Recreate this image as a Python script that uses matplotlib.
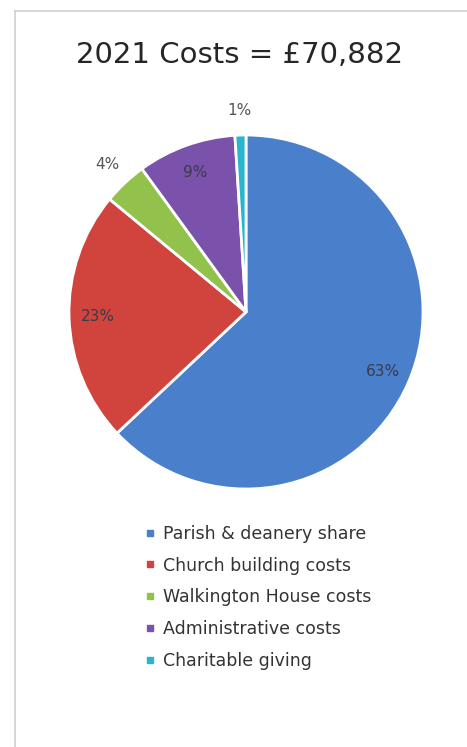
import matplotlib
matplotlib.use("Agg")
import numpy as np
import matplotlib.pyplot as plt
from matplotlib.lines import Line2D

# data
categories = ["Parish & deanery share", "Church building costs",
              "Walkington House costs", "Administrative costs", "Charitable giving"]
shares = [63, 23, 4, 9, 1]
colors = ["#4a7fcb", "#d0443d", "#93c24c", "#7b52ab", "#2ab5cf"]
title = "2021 Costs = £70,882"

W, H = 467, 747
fig = plt.figure(figsize=(W / 100, H / 100), dpi=100)

# light frame like the screenshot (left + top edges)
fig.add_artist(Line2D([15 / W, 15 / W], [0, 1 - 11 / H], color="#cfcfcf", lw=1.2))
fig.add_artist(Line2D([15 / W, 1], [1 - 11 / H, 1 - 11 / H], color="#cfcfcf", lw=1.2))

# pie axes: centre (246, 312) px, radius 177 px
cx, cy, r = 246, 312, 177
half = r * 1.02
ax = fig.add_axes([(cx - half) / W, (H - cy - half) / H, 2 * half / W, 2 * half / H])
wedges, _ = ax.pie(shares, colors=colors, startangle=90, counterclock=False,
                   wedgeprops=dict(edgecolor="white", linewidth=2))
ax.set_xlim(-1.02, 1.02)
ax.set_ylim(-1.02, 1.02)
ax.set_aspect("equal")
ax.axis("off")

# percentage labels: inside for big slices, outside for small ones
for w, v in zip(wedges, shares):
    ang = np.deg2rad((w.theta1 + w.theta2) / 2)
    if v >= 5:
        d, col = 0.84, "#3a3a4a"
    else:
        d, col = 1.14, "#555555"
    ax.text(d * np.cos(ang), d * np.sin(ang), f"{v}%", ha="center", va="center",
            fontsize=11, color=col, clip_on=False)

fig.text(240 / W, 1 - 55 / H, title, ha="center", va="center", fontsize=21, color="#262626")

handles = [Line2D([], [], marker="s", linestyle="none", markersize=5,
                  markerfacecolor=c, markeredgecolor=c) for c in colors]
fig.legend(handles, categories, loc="upper left",
           bbox_to_anchor=(129 / W, 1 - 509 / H), frameon=False,
           fontsize=12.5, labelcolor="#333333", handlelength=0.6,
           handletextpad=0.45, labelspacing=0.8)

fig.savefig("out.png", dpi=100)
